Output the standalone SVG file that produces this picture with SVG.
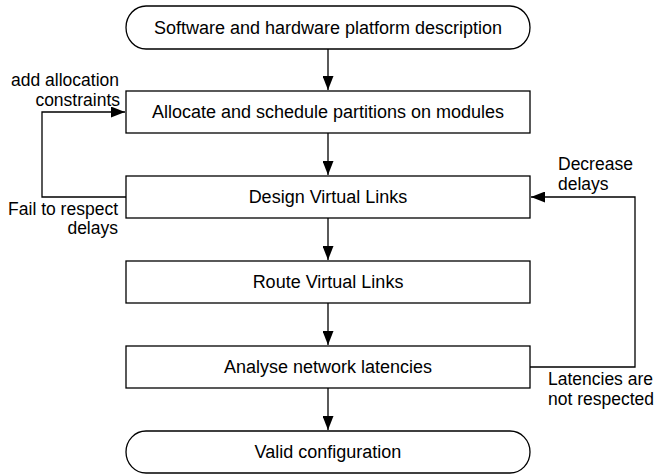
<svg xmlns="http://www.w3.org/2000/svg" width="656" height="474" viewBox="0 0 656 474">
<style>
.n{fill:#fff;stroke:#000;stroke-width:1.3}
.t{font-family:"Liberation Sans",Arial,Helvetica,sans-serif;font-size:18px;fill:#000}
.l{font-size:17.5px}
.c{text-anchor:middle;dominant-baseline:central}
.e{stroke:#000;stroke-width:1.3;fill:none}
</style>
<defs>
<marker id="ah" markerWidth="14" markerHeight="11" refX="14" refY="5.5" orient="auto" markerUnits="userSpaceOnUse">
<path d="M0,0 L14,5.5 L0,11 Z" fill="#000"/>
</marker>
</defs>
<rect width="656" height="474" fill="#fff"/>
<g id="connectors">
<path class="e" d="M328,49 V90" marker-end="url(#ah)"/>
<path class="e" d="M328,133 V175" marker-end="url(#ah)"/>
<path class="e" d="M328,218 V260" marker-end="url(#ah)"/>
<path class="e" d="M328,303 V345" marker-end="url(#ah)"/>
<path class="e" d="M328,388 V430" marker-end="url(#ah)"/>
<path class="e" d="M126,197 H42 V112 H125" marker-end="url(#ah)"/>
<path class="e" d="M530,367 H635 V197 H531" marker-end="url(#ah)"/>
<text class="t l" text-anchor="end" x="119" y="86">add allocation</text>
<text class="t l" text-anchor="end" x="120" y="106">constraints</text>
<text class="t l" text-anchor="end" x="118" y="215">Fail to respect</text>
<text class="t l" text-anchor="end" x="118" y="234">delays</text>
<text class="t l" x="558" y="170">Decrease</text>
<text class="t l" x="558" y="190">delays</text>
<text class="t l" x="548" y="385" textLength="105" lengthAdjust="spacingAndGlyphs">Latencies are</text>
<text class="t l" x="548" y="405" textLength="106" lengthAdjust="spacingAndGlyphs">not respected</text>
</g>
<g id="start">
<rect class="n" x="126" y="6" width="404" height="43" rx="20" ry="21.5"/>
<text class="t c" x="328" y="27.5">Software and hardware platform description</text>
</g>
<g id="allocate">
<rect class="n" x="126" y="91" width="404" height="42"/>
<text class="t c" x="328" y="112">Allocate and schedule partitions on modules</text>
</g>
<g id="design">
<rect class="n" x="126" y="176" width="404" height="42"/>
<text class="t c" x="328" y="197">Design Virtual Links</text>
</g>
<g id="route">
<rect class="n" x="126" y="261" width="404" height="42"/>
<text class="t c" x="328" y="282">Route Virtual Links</text>
</g>
<g id="analyse">
<rect class="n" x="126" y="346" width="404" height="42"/>
<text class="t c" x="328" y="367">Analyse network latencies</text>
</g>
<g id="end">
<rect class="n" x="126" y="431" width="404" height="42" rx="20" ry="21"/>
<text class="t c" x="328" y="452">Valid configuration</text>
</g>
</svg>
